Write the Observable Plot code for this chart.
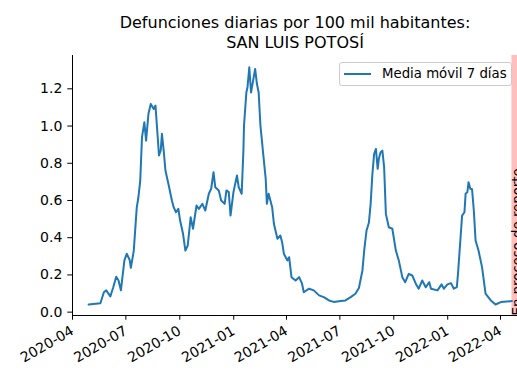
<!DOCTYPE html>
<html><head><meta charset="utf-8">
<script src="https://cdn.jsdelivr.net/npm/d3@7"></script>
<script src="https://cdn.jsdelivr.net/npm/@observablehq/plot@0.6"></script>
<style>
body{margin:0;background:#fff;}
#wrap{position:relative;width:517px;height:375px;overflow:hidden;font-family:"DejaVu Sans",sans-serif;color:#000;}
#title{position:absolute;left:45px;width:500px;top:12.5px;text-align:center;font-size:16px;line-height:20px;}
#legend{position:absolute;left:339px;top:62px;width:171px;height:22px;border:1px solid #cccccc;border-radius:3px;background:rgba(255,255,255,0.8);font-size:13.3px;}
#legend .swatch{position:absolute;left:4px;top:10px;width:27px;height:2px;background:#1f77b4;}
#legend .lab{position:absolute;left:42px;top:2px;line-height:18px;white-space:nowrap;}
#chart{position:absolute;left:0;top:0;}
</style></head>
<body>
<div id="wrap">
  <div id="chart"></div>
  <div id="title"></div>
  <div id="legend"><div class="swatch"></div><div class="lab"></div></div>
</div>
<script>
const titleLines = ["Defunciones diarias por 100 mil habitantes:", "SAN LUIS POTOSÍ"];
const seriesName = "Media móvil 7 días";
const bandLabel = "En proceso de reporte";
const bandStart = "2022-04-12";
const xTickLabels = ["2020-04","2020-07","2020-10","2021-01","2021-04","2021-07","2021-10","2022-01","2022-04"];
const yTicks = [0, 0.2, 0.4, 0.6, 0.8, 1.0, 1.2];

const dates = [
"2020-04-20","2020-05-10","2020-05-16","2020-05-20","2020-05-27","2020-06-01","2020-06-06","2020-06-10","2020-06-14","2020-06-20",
"2020-06-24","2020-06-29","2020-07-01","2020-07-06","2020-07-11","2020-07-14","2020-07-17","2020-07-20","2020-07-24","2020-07-27",
"2020-07-31","2020-08-04","2020-08-09","2020-08-12","2020-08-15","2020-08-18","2020-08-21","2020-08-23","2020-08-26","2020-08-29",
"2020-09-03","2020-09-09","2020-09-12","2020-09-16","2020-09-20","2020-09-23","2020-09-28","2020-10-02","2020-10-06","2020-10-11",
"2020-10-15","2020-10-21","2020-10-25","2020-10-31","2020-11-05","2020-11-11","2020-11-15","2020-11-19","2020-11-22","2020-11-28",
"2020-12-02","2020-12-08","2020-12-11","2020-12-15","2020-12-18","2020-12-23","2020-12-29","2021-01-01","2021-01-06","2021-01-09",
"2021-01-10","2021-01-14","2021-01-16","2021-01-19","2021-01-22","2021-01-25","2021-01-29","2021-02-01","2021-02-04","2021-02-07",
"2021-02-12","2021-02-16","2021-02-18","2021-02-21","2021-02-27","2021-03-02","2021-03-08","2021-03-13","2021-03-16","2021-03-19",
"2021-03-25","2021-03-28","2021-04-01","2021-04-08","2021-04-14","2021-04-19","2021-04-22","2021-05-01","2021-05-09","2021-05-18",
"2021-05-26","2021-06-04","2021-06-12","2021-06-24","2021-07-02","2021-07-11","2021-07-19","2021-07-25","2021-07-31","2021-08-03",
"2021-08-07","2021-08-11","2021-08-14","2021-08-17","2021-08-20","2021-08-23","2021-08-26","2021-08-28","2021-08-31","2021-09-03",
"2021-09-06","2021-09-09","2021-09-14","2021-09-20","2021-09-26","2021-10-01","2021-10-07","2021-10-12","2021-10-18","2021-10-24",
"2021-10-30","2021-11-04","2021-11-10","2021-11-16","2021-11-22","2021-11-25","2021-12-06","2021-12-13","2021-12-17","2021-12-23",
"2021-12-29","2022-01-03","2022-01-08","2022-01-10","2022-01-14","2022-01-17","2022-01-21","2022-01-23","2022-01-26","2022-01-28",
"2022-01-31","2022-02-03","2022-02-06","2022-02-09","2022-02-14","2022-02-20","2022-02-26","2022-03-07","2022-03-15","2022-03-24",
"2022-04-09","2022-04-12"];
const values = [
0.041,0.048,0.107,0.117,0.085,0.134,0.19,0.17,0.117,0.278,
0.314,0.28,0.238,0.331,0.56,0.62,0.707,0.94,1.02,0.922,
1.066,1.119,1.092,1.11,0.976,0.842,0.87,0.958,0.868,0.761,
0.69,0.6,0.564,0.537,0.555,0.492,0.421,0.331,0.358,0.51,
0.448,0.573,0.555,0.582,0.546,0.636,0.663,0.752,0.671,0.654,
0.6,0.582,0.654,0.645,0.519,0.645,0.734,0.671,0.636,0.87,
1.003,1.18,1.21,1.316,1.18,1.235,1.307,1.227,1.18,1.003,
0.842,0.716,0.582,0.636,0.564,0.475,0.394,0.412,0.376,0.314,
0.278,0.295,0.188,0.17,0.188,0.153,0.107,0.126,0.117,0.09,
0.081,0.063,0.055,0.06,0.063,0.081,0.099,0.13,0.224,0.331,
0.439,0.48,0.582,0.743,0.851,0.877,0.77,0.824,0.859,0.868,
0.779,0.528,0.456,0.448,0.331,0.278,0.188,0.161,0.206,0.197,
0.153,0.126,0.17,0.134,0.161,0.126,0.117,0.149,0.126,0.149,
0.156,0.126,0.134,0.206,0.385,0.519,0.537,0.636,0.645,0.698,
0.663,0.66,0.546,0.385,0.331,0.242,0.099,0.063,0.041,0.054,
0.059,0.06];

const parse = d3.utcParse("%Y-%m-%d");
const data = dates.map((d, i) => ({date: parse(d), value: values[i]}));
const xDomain = [new Date("2020-03-23T11:00:00Z"), new Date("2022-04-21T12:00:00Z")];
const yDomain = [-0.018, 1.379];
const xTicks = xTickLabels.map(s => d3.utcParse("%Y-%m")(s));

document.getElementById("title").innerHTML = titleLines.join("<br>");
document.querySelector("#legend .lab").textContent = seriesName;

const chart = Plot.plot({
  width: 517, height: 375,
  marginLeft: 72, marginRight: 0, marginTop: 55, marginBottom: 60,
  style: {fontFamily: "DejaVu Sans", fontSize: "14px", color: "black", background: "transparent"},
  x: {type: "utc", domain: xDomain, label: null},
  y: {domain: yDomain, label: null},
  marks: [
    Plot.rect([{x1: parse(bandStart), x2: xDomain[1]}], {x1: "x1", x2: "x2", fill: "red", fillOpacity: 0.25}),
    Plot.line(data, {x: "date", y: "value", stroke: "#1f77b4", strokeWidth: 2}),
    Plot.text([bandLabel], {x: () => parse(bandStart), y: () => yDomain[0], text: d => d, rotate: -90,
      textAnchor: "start", lineAnchor: "top", fontSize: 13.3, fill: "black", dx: 1}),
    Plot.ruleX([xDomain[0]], {stroke: "black", strokeWidth: 1}),
    Plot.ruleY([yDomain[0]], {stroke: "black", strokeWidth: 1}),
    Plot.axisY({ticks: yTicks, tickFormat: d => d.toFixed(1), tickSize: 4.7, tickPadding: 5.5, label: null}),
    Plot.axisX({ticks: xTicks, tickFormat: d3.utcFormat("%Y-%m"), tickRotate: -30, tickSize: 4.7, tickPadding: 9.5, dx: -5, label: null})
  ]
});
document.getElementById("chart").appendChild(chart);
</script>
</body></html>
